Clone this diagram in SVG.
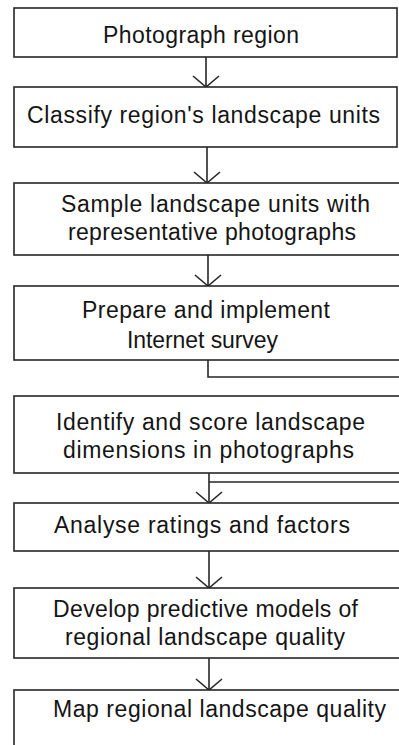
<svg xmlns="http://www.w3.org/2000/svg" width="399" height="745" viewBox="0 0 399 745">
  <defs>
    <style>
      .box { fill: #ffffff; stroke: #262626; stroke-width: 1.6; }
      .lbl { font-family: "Liberation Sans", Arial, sans-serif; font-size: 23px; fill: #151515; }
      .edge { fill: none; stroke: #262626; stroke-width: 1.6; }
    </style>
    <!-- open V arrowhead -->
    <marker id="vhead" markerUnits="userSpaceOnUse" markerWidth="30" markerHeight="30" viewBox="-15 -15 30 30" refX="0" refY="0" orient="auto" overflow="visible">
      <path d="M-11,-13 L0,0 L-11,13" fill="none" stroke="#262626" stroke-width="1.6"/>
    </marker>
  </defs>
  <rect width="399" height="745" fill="#ffffff"/>

  <g id="connectors">
    <line class="edge" x1="206" y1="57" x2="206" y2="87" marker-end="url(#vhead)"/>
    <line class="edge" x1="207" y1="147" x2="207" y2="183" marker-end="url(#vhead)"/>
    <line class="edge" x1="208" y1="255" x2="208" y2="286" marker-end="url(#vhead)"/>
    <path class="edge" d="M208,360 V377 H405"/>
    <line class="edge" x1="209" y1="473" x2="209" y2="503" marker-end="url(#vhead)"/>
    <path class="edge" d="M209,482 H405"/>
    <line class="edge" x1="209" y1="551" x2="209" y2="588" marker-end="url(#vhead)"/>
    <line class="edge" x1="209" y1="658" x2="209" y2="690" marker-end="url(#vhead)"/>
  </g>

  <g id="photograph-region">
    <rect class="box" x="14" y="8" width="383" height="49"/>
    <text class="lbl" x="103" y="43" textLength="196">Photograph region</text>
  </g>

  <g id="classify-units">
    <rect class="box" x="14" y="87" width="383" height="60"/>
    <text class="lbl" x="27" y="123" textLength="353">Classify region's landscape units</text>
  </g>

  <g id="sample-units">
    <rect class="box" x="14" y="183" width="400" height="72"/>
    <text class="lbl" x="61" y="212" textLength="309">Sample landscape units with</text>
    <text class="lbl" x="68" y="240" textLength="288">representative photographs</text>
  </g>

  <g id="internet-survey">
    <rect class="box" x="14" y="286" width="400" height="74"/>
    <text class="lbl" x="82" y="318" textLength="248">Prepare and implement</text>
    <text class="lbl" x="127" y="348" textLength="151">Internet survey</text>
  </g>

  <g id="score-dimensions">
    <rect class="box" x="14" y="396" width="400" height="77"/>
    <text class="lbl" x="56" y="430" textLength="309">Identify and score landscape</text>
    <text class="lbl" x="63" y="458" textLength="291">dimensions in photographs</text>
  </g>

  <g id="analyse-ratings">
    <rect class="box" x="14" y="503" width="400" height="48"/>
    <text class="lbl" x="54" y="533" textLength="296">Analyse ratings and factors</text>
  </g>

  <g id="predictive-models">
    <rect class="box" x="14" y="588" width="400" height="70"/>
    <text class="lbl" x="53" y="617" textLength="305">Develop predictive models of</text>
    <text class="lbl" x="65" y="645" textLength="280">regional landscape quality</text>
  </g>

  <g id="map-quality">
    <rect class="box" x="14" y="690" width="400" height="80"/>
    <text class="lbl" x="53" y="717" textLength="333">Map regional landscape quality</text>
  </g>
</svg>
